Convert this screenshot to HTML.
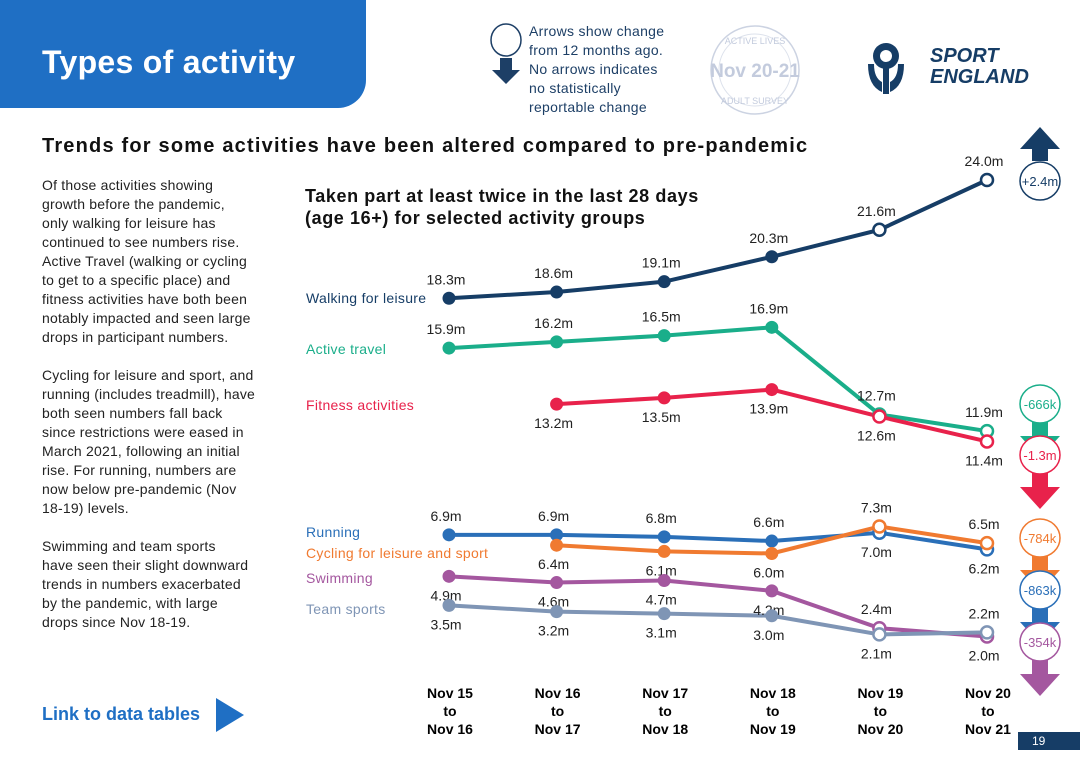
<!DOCTYPE html>
<html><head><meta charset="utf-8"><style>
body{margin:0;width:1080px;height:764px;background:#fff;font-family:"Liberation Sans",sans-serif;position:relative;overflow:hidden;color:#111}
.abs{position:absolute}
</style></head><body>
<div class="abs" style="left:0;top:0;width:366px;height:108px;background:#1f6fc4;border-bottom-right-radius:28px"></div>
<div class="abs" style="left:42px;top:44px;color:#fff;font-size:32px;font-weight:bold;letter-spacing:0.3px">Types of activity</div>
<div class="abs" style="left:529px;top:22px;font-size:14px;line-height:19px;color:#1d3f66;letter-spacing:0.3px">Arrows show change<br>from 12 months ago.<br>No arrows indicates<br>no statistically<br>reportable change</div>
<svg class="abs" style="left:486px;top:22px" width="40" height="66"><ellipse cx="20" cy="18" rx="15" ry="16" fill="#fff" stroke="#1d3f66" stroke-width="1.5"/><path d="M14 36h12v12h8l-14 14l-14-14h8z" fill="#1d3f66"/></svg>
<svg class="abs" style="left:705px;top:22px" width="100" height="95"><circle cx="50" cy="48" r="44" fill="none" stroke="#ccd3e2" stroke-width="1.5"/><circle cx="50" cy="48" r="36" fill="none" stroke="#dde2ec"/><text x="50" y="55" text-anchor="middle" font-size="19" font-weight="bold" fill="#c3cbdd" font-family="Liberation Sans">Nov 20-21</text><text x="50" y="22" text-anchor="middle" font-size="9" fill="#c3cbdd">ACTIVE LIVES</text><text x="50" y="82" text-anchor="middle" font-size="9" fill="#c3cbdd">ADULT SURVEY</text></svg>
<svg class="abs" style="left:866px;top:40px" width="60" height="55"><circle cx="20" cy="16" r="13" fill="#163d66"/><circle cx="20" cy="16" r="6" fill="#fff"/><rect x="17" y="22" width="6" height="32" fill="#163d66"/><path d="M2 24q0 22 14 28v-10q-8-4-8-18z" fill="#163d66"/><path d="M38 24q0 22-14 28v-10q8-4 8-18z" fill="#163d66"/></svg>
<div class="abs" style="left:930px;top:46px;font-size:20px;font-weight:bold;font-style:italic;color:#163d66;line-height:21px">SPORT<br>ENGLAND</div>
<div class="abs" style="left:42px;top:135px;font-size:20px;font-weight:bold;letter-spacing:1.2px">Trends for some activities have been altered compared to pre-pandemic</div>
<div class="abs" style="left:42px;top:176px;width:260px;font-size:14px;line-height:19px;color:#222;letter-spacing:0.2px;white-space:nowrap">Of those activities showing<br>growth before the pandemic,<br>only walking for leisure has<br>continued to see numbers rise.<br>Active Travel (walking or cycling<br>to get to a specific place) and<br>fitness activities have both been<br>notably impacted and seen large<br>drops in participant numbers.<br><br>Cycling for leisure and sport, and<br>running (includes treadmill), have<br>both seen numbers fall back<br>since restrictions were eased in<br>March 2021, following an initial<br>rise. For running, numbers are<br>now below pre-pandemic (Nov<br>18-19) levels.<br><br>Swimming and team sports<br>have seen their slight downward<br>trends in numbers exacerbated<br>by the pandemic, with large<br>drops since Nov 18-19.</div>
<div class="abs" style="left:42px;top:704px;font-size:18px;font-weight:bold;color:#1f6fc4">Link to data tables</div>
<svg class="abs" style="left:216px;top:698px" width="30" height="34"><path d="M0 0L28 17L0 34z" fill="#1f6fc4"/></svg>
<div class="abs" style="left:305px;top:185px;font-size:18px;font-weight:bold;line-height:22px;letter-spacing:0.6px">Taken part at least twice in the last 28 days<br>(age 16+) for selected activity groups</div>
<div class="abs" style="left:1018px;top:732px;width:62px;height:18px;background:#163d66;color:#fff;font-size:12px;padding-left:14px;box-sizing:border-box;line-height:18px">19</div>
<svg id="chart" class="abs" style="left:0;top:0" width="1080" height="764"></svg>
<script>
const categories=["Nov 15","Nov 16","Nov 17","Nov 18","Nov 19","Nov 20"];
const categories2=["Nov 16","Nov 17","Nov 18","Nov 19","Nov 20","Nov 21"];
const seriesNames=["Walking for leisure","Active travel","Fitness activities","Running","Cycling for leisure and sport","Swimming","Team sports"];
const walking=[18.3,18.6,19.1,20.3,21.6,24.0];
const activeTravel=[15.9,16.2,16.5,16.9,12.7,11.9];
const fitness=[null,13.2,13.5,13.9,12.6,11.4];
const running=[6.9,6.9,6.8,6.6,7.0,6.2];
const cycling=[null,6.4,6.1,6.0,7.3,6.5];
const swimming=[4.9,4.6,4.7,4.2,2.4,2.0];
const teamSports=[3.5,3.2,3.1,3.0,2.1,2.2];
const changes=["+2.4m","-666k","-1.3m","-784k","-863k","-354k"];
const labelSide=[[-1,-1,-1,-1,-1,-1],[-1,-1,-1,-1,-1,-1],[0,1,1,1,1,1],[-1,-1,-1,-1,1,1],[0,1,1,1,-1,-1],[1,1,1,1,-1,1],[1,1,1,1,1,-1]];
const colors=["#163d66","#1aae8a","#e8224b","#2a6fb8","#f07a30","#a4579f","#7f95b5"];
const legendY=[298,349,405,532,553,578,609];
const xs=i=>449+i*107.6;
const ys=v=>678-v*20.75;
const svg=document.getElementById('chart');const NS="http://www.w3.org/2000/svg";
function mk(t,a,txt){const e=document.createElementNS(NS,t);for(const k in a)e.setAttribute(k,a[k]);if(txt!==undefined)e.textContent=txt;svg.appendChild(e);return e;}
const all=[walking,activeTravel,fitness,running,cycling,swimming,teamSports];
all.forEach((s,si)=>{
  let pts=[];s.forEach((v,i)=>{if(v!==null)pts.push(xs(i)+","+ys(v));});
  const l=mk('polyline',{points:pts.join(' '),fill:'none',stroke:colors[si],'stroke-width':4});
  
  
  const lg=mk('text',{x:306,y:legendY[si]+5,'font-size':14,fill:colors[si],'letter-spacing':0.3},seriesNames[si]);
  
  
});
all.forEach((s,si)=>{s.forEach((v,i)=>{if(v===null)return;
  const open=i>=5||(i==4);
  const c=mk('circle',{cx:xs(i),cy:ys(v),r:6,fill:open?'#fff':colors[si],stroke:colors[si],'stroke-width':open?2.5:1});
  
  
  const side=labelSide[si][i]||(-1);
  const t=mk('text',{x:xs(i)-3,y:ys(v)+(side<0?-14:24),'text-anchor':'middle','font-size':14,fill:'#222'},v.toFixed(1)+'m');
  
  
});});
categories.forEach((c,i)=>{[c,'to',categories2[i]].forEach((s,k)=>{
  const t=mk('text',{x:xs(i)+1,y:698+k*18,'text-anchor':'middle','font-size':14,'font-weight':'bold'},s);
  
  });});
const chgY=[181,404,455,538,590,642];const chgC=[colors[0],colors[1],colors[2],colors[4],colors[3],colors[5]];const up=[1,0,0,0,0,0];
chgY.forEach((y,k)=>{
  const col=chgC[k];
  if(up[k]){mk('path',{d:`M1032 ${y-20}v-12h-12l20-22l20 22h-12v12z`,fill:col});}
  else{mk('path',{d:`M1032 ${y+18}v14h-12l20 22l20-22h-12v-14z`,fill:col});}
  mk('ellipse',{cx:1040,cy:y,rx:20,ry:19,fill:'#fff',stroke:col,'stroke-width':1.5});
  const t=mk('text',{x:1040,y:y+5,'text-anchor':'middle','font-size':13,fill:col},changes[k]);
  
  
});
</script>
</body></html>
